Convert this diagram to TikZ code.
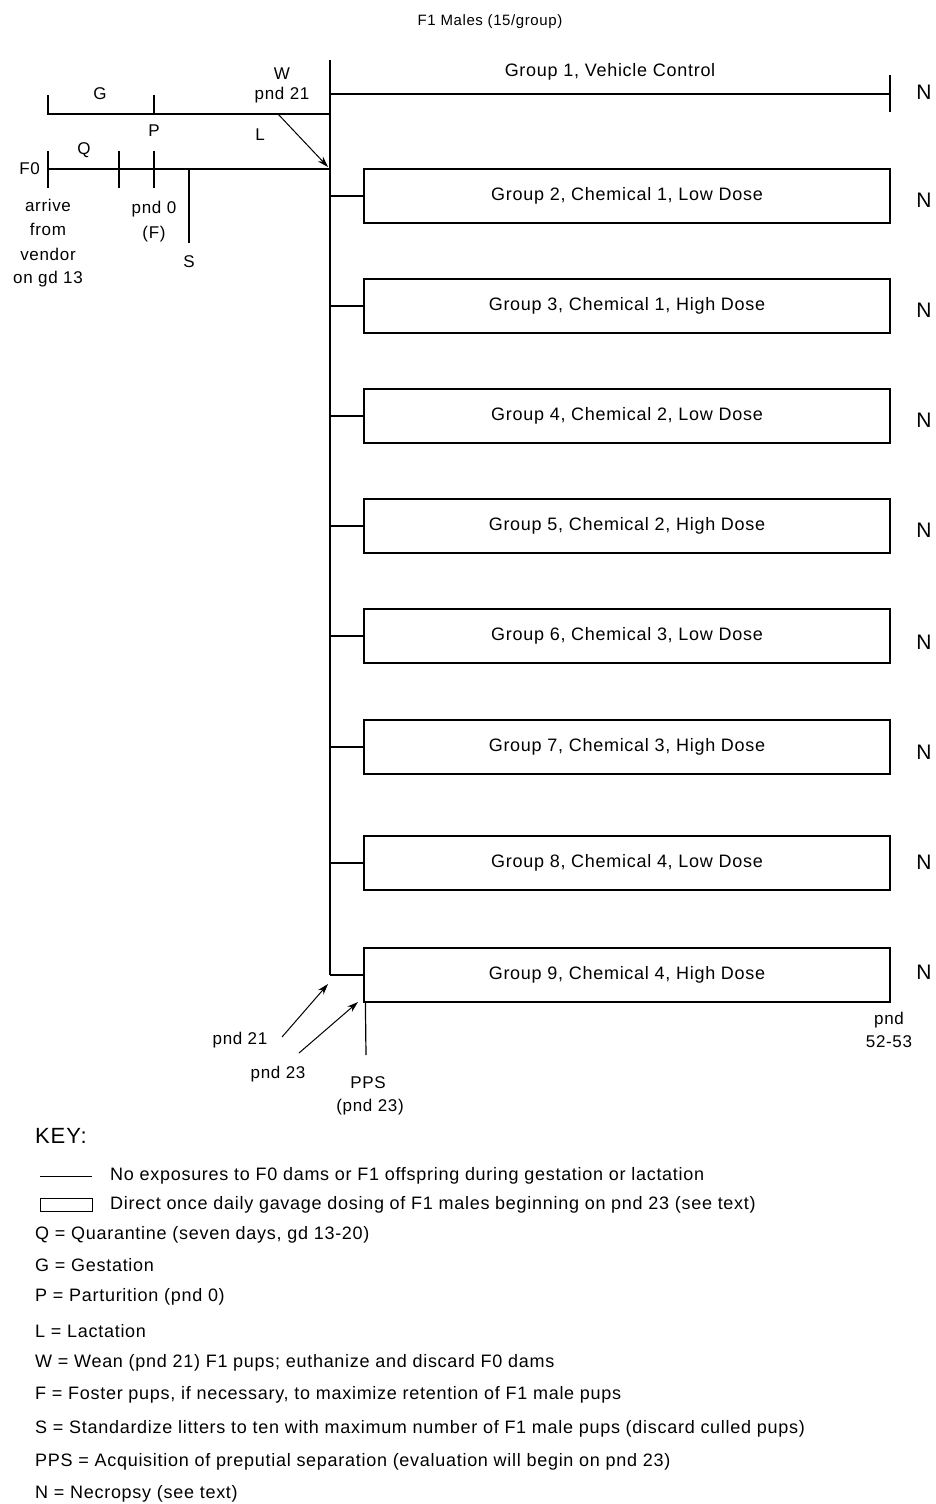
\documentclass[tikz,border=0pt]{standalone}
\usepackage{fontspec}
\setmainfont{Liberation Sans}[LetterSpace=4]
\usetikzlibrary{arrows.meta}
\begin{document}
\begin{tikzpicture}[x=1pt,y=-1pt,
  lbl/.style={inner sep=0pt,font=\fontsize{17}{20}\selectfont},
  big/.style={inner sep=0pt,font=\fontsize{18}{20}\selectfont},
  nlbl/.style={inner sep=0pt,font=\fontsize{21}{24}\selectfont},
  grp/.style={draw,line width=1.2pt,minimum width=526pt,minimum height=54pt,inner sep=0pt,font=\fontsize{18}{20}\selectfont},
  ln/.style={line width=1.2pt},
  arr/.style={line width=1pt,-{Stealth[length=11pt,width=7pt]}},
  keytxt/.style={big,anchor=west}]
\useasboundingbox[fill=white] (0,0) rectangle (935,1504);

% title
\node[inner sep=0pt,font=\fontsize{15}{18}\selectfont] (title) at (490,22) {F1 Males (15/group)};

% spine
\coordinate (top) at (330,60);
\coordinate (bot) at (330,975);
\draw[ln] (top) -- (bot);

% group 1 line
\coordinate (g1s) at (330,94);
\coordinate (g1e) at (890,94);
\draw[ln] (g1s) -- (g1e);
\draw[ln] (890,75) -- (890,112);
\node[big] (g1lbl) at (610,72) {Group 1, Vehicle Control};

% gestation line
\coordinate (gs) at (48,114);
\coordinate (ge) at (330,114);
\draw[ln] (48,95) -- (gs) -- (ge);
\draw[ln] (154,95) -- (154,114);
\node[lbl] (G) at (100,94) {G};
\node[lbl] (P) at (154,131) {P};
\node[lbl] (W) at (282,74) {W};
\node[lbl] (wpnd) at (282,95) {pnd 21};
\node[lbl] (L) at (260,135) {L};

% F0 line
\coordinate (fs) at (48,169);
\coordinate (fe) at (330,169);
\draw[ln] (48,151) -- (48,188);
\draw[ln] (fs) -- (fe);
\draw[ln] (119,151) -- (119,188);
\draw[ln] (154,151) -- (154,188);
\draw[ln] (189,169) -- (189,243);
\node[lbl,anchor=east] (F0) at (40,169) {F0};
\node[lbl] (Q) at (84,150) {Q};
\node[lbl] (arr1) at (48,205) {arrive};
\node[lbl] (arr2) at (48,229) {from};
\node[lbl] (arr3) at (48,254) {vendor};
\node[lbl] (arr4) at (48,279) {on gd 13};
\node[lbl] (pnd0) at (154,209) {pnd 0};
\node[lbl] (Fl) at (154,234) {(F)};
\node[lbl] (S) at (189,262) {S};

% arrow L
\coordinate (la) at (278,114);
\coordinate (lb) at (328,167);
\draw[arr] (la) -- (lb);

% groups
\foreach \n/\y/\t in {2/196/{Group 2, Chemical 1, Low Dose},
                      3/306/{Group 3, Chemical 1, High Dose},
                      4/416/{Group 4, Chemical 2, Low Dose},
                      5/526/{Group 5, Chemical 2, High Dose},
                      6/636/{Group 6, Chemical 3, Low Dose},
                      7/747/{Group 7, Chemical 3, High Dose},
                      8/863/{Group 8, Chemical 4, Low Dose},
                      9/975/{Group 9, Chemical 4, High Dose}}{
  \node[grp] (g\n) at (627,\y) {\t};
  \draw[ln] (g\n.west) -- (g\n.west -| top);
}

% N labels
\foreach \y [count=\i] in {92,200,310,420,530,642,752,862,972}{
  \node[nlbl] (N\i) at (924,\y) {N};
}

% bottom
\node[lbl] (p21) at (240,1040) {pnd 21};
\node[lbl] (p23) at (278,1074) {pnd 23};
\coordinate (a21s) at (282,1037);
\coordinate (a21e) at (328,984);
\coordinate (a23s) at (299,1053);
\coordinate (a23e) at (358,1002);
\draw[arr] (a21s) -- (a21e);
\draw[arr] (a23s) -- (a23e);
\coordinate (ppsb) at (366,1055);
\draw[ln] (g9.south west) ++(2,0) -- (ppsb);
\node[lbl] (pps) at (368,1083) {PPS};
\node[lbl] (pps2) at (370,1107) {(pnd 23)};
\node[lbl] (end1) at (889,1020) {pnd};
\node[lbl] (end2) at (889,1042) {52-53};

% key
\node[inner sep=0pt,anchor=west,font=\fontsize{22}{24}\selectfont] (key) at (35,1136) {KEY:};
\draw[line width=1pt] (40,1176) -- (92,1176);
\node[keytxt] (k1) at (110,1176) {No exposures to F0 dams or F1 offspring during gestation or lactation};
\draw[line width=1pt] (40,1198) rectangle (92,1211);
\node[keytxt] (k2) at (110,1205) {Direct once daily gavage dosing of F1 males beginning on pnd 23 (see text)};
\node[keytxt] (k3) at (35,1235) {Q = Quarantine (seven days, gd 13-20)};
\node[keytxt] (k4) at (35,1265) {G = Gestation};
\node[keytxt] (k5) at (35,1297) {P = Parturition (pnd 0)};
\node[keytxt] (k6) at (35,1331) {L = Lactation};
\node[keytxt] (k7) at (35,1363) {W = Wean (pnd 21) F1 pups; euthanize and discard F0 dams};
\node[keytxt] (k8) at (35,1395) {F = Foster pups, if necessary, to maximize retention of F1 male pups};
\node[keytxt] (k9) at (35,1429) {S = Standardize litters to ten with maximum number of F1 male pups (discard culled pups)};
\node[keytxt] (k10) at (35,1462) {PPS = Acquisition of preputial separation (evaluation will begin on pnd 23)};
\node[keytxt] (k11) at (35,1494) {N = Necropsy (see text)};
\end{tikzpicture}
\end{document}
